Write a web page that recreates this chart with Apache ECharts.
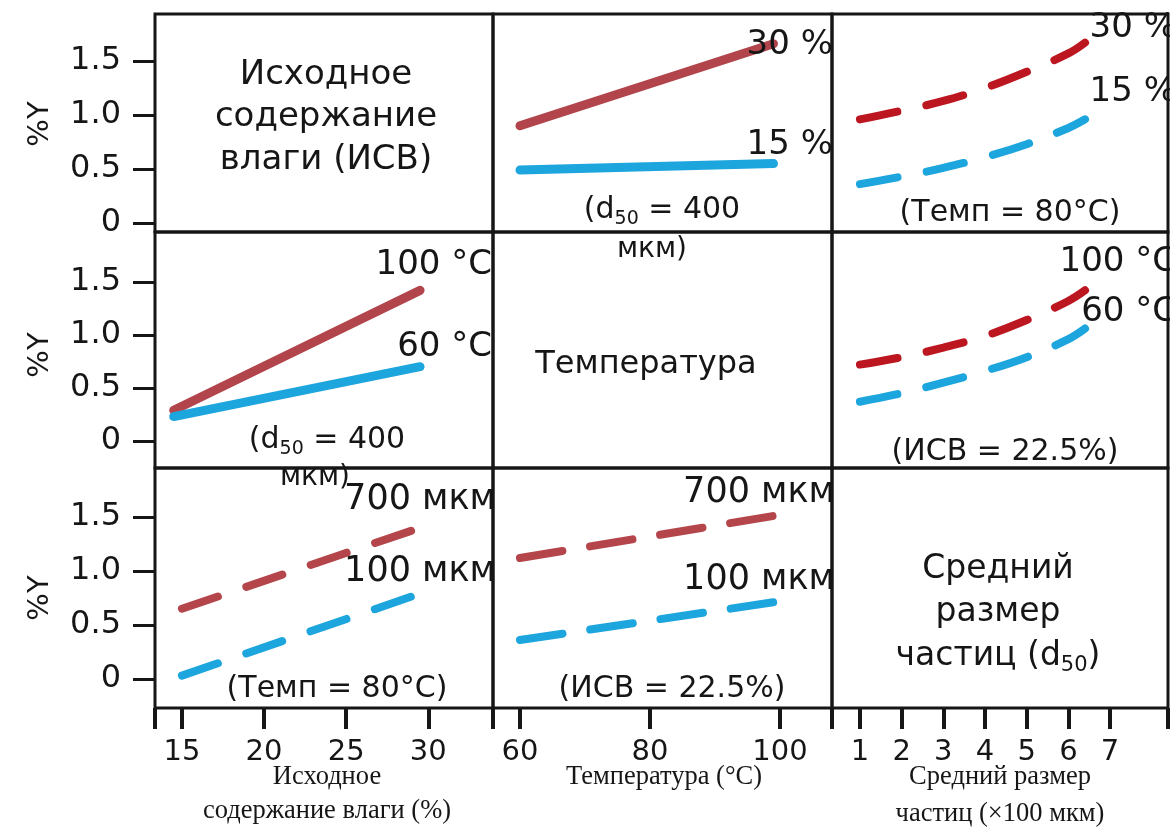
<!DOCTYPE html>
<html>
<head>
<meta charset="utf-8">
<script src="https://cdn.jsdelivr.net/npm/echarts@6/dist/echarts.min.js"></script>
<style>
  html, body { margin: 0; padding: 0; background: #ffffff; }
  #chart { width: 1170px; height: 838px; }
</style>
</head>
<body>
<div id="chart"></div>
<script>
// ---- Tick values and labels ----
const yTicks = [0, 0.5, 1.0, 1.5];
const yTickLabels = ['0', '0.5', '1.0', '1.5'];
const moistTicks = [15, 20, 25, 30];
const tempTicks = [60, 80, 100];
const sizeTicks = [1, 2, 3, 4, 5, 6, 7];

// ---- Yield %Y versus temperature (°C) ----
const tempX = [60, 99];
const yieldTempW30 = [0.90, 1.66];   // ИСВ 30 %
const yieldTempW15 = [0.49, 0.55];   // ИСВ 15 %
const yieldTempD700 = [1.12, 1.51];  // d50 700 мкм
const yieldTempD100 = [0.36, 0.71];  // d50 100 мкм

// ---- Yield %Y versus initial moisture content (%) ----
const moistXT = [14.5, 29.5];
const yieldMoistT100 = [0.29, 1.42]; // 100 °C
const yieldMoistT60 = [0.23, 0.70];  // 60 °C
const moistXD = [15, 29.5];
const yieldMoistD700 = [0.65, 1.40]; // 700 мкм
const yieldMoistD100 = [0.03, 0.79]; // 100 мкм

// ---- Yield %Y versus mean particle size (×100 мкм) ----
const sizeX = [1, 2, 3, 4, 5, 6, 6.4];
const yieldSizeW30 = [0.96, 1.04, 1.13, 1.25, 1.40, 1.57, 1.67];
const yieldSizeW15 = [0.36, 0.43, 0.51, 0.61, 0.73, 0.88, 0.96];
const yieldSizeT100 = [0.72, 0.79, 0.88, 0.99, 1.14, 1.32, 1.42];
const yieldSizeT60 = [0.37, 0.45, 0.55, 0.66, 0.79, 0.96, 1.06];

// ---- Layout of the 3×3 matrix ----
const colLeft = [155, 493, 832];
const colWidth = [338, 339, 336];
const rowTop = [14, 232, 468];
const rowHeight = [218, 236, 240];
const colRange = [[13.36, 33.94], [55.85, 108], [0.33, 8.39]];
const rowRange = [[-0.083, 1.935], [-0.255, 1.97], [-0.27, 1.954]];
const colTicks = [moistTicks, tempTicks, sizeTicks];

const INK = '#161616';
const SANS = '"DejaVu Sans", "Open Sans", sans-serif';
const SERIF = '"Liberation Serif", "DejaVu Serif", serif';
const RED_SOLID = '#B2454B';
const RED_DARK = '#BC1721';
const RED_DASH = '#B4464B';
const BLUE = '#1DA5DE';

const grids = [], xAxes = [], yAxes = [];
for (let r = 0; r < 3; r++) {
  for (let c = 0; c < 3; c++) {
    grids.push({
      left: colLeft[c], top: rowTop[r], width: colWidth[c], height: rowHeight[r],
      show: true, borderColor: INK, borderWidth: 3, backgroundColor: 'transparent'
    });
    const edgeTicks = c === 2 ? [colRange[c][0], colRange[c][1]] : [colRange[c][0]];
    xAxes.push({
      gridIndex: r * 3 + c, type: 'value', position: 'bottom',
      min: colRange[c][0], max: colRange[c][1],
      show: r === 2,
      axisLine: { show: false, onZero: false },
      splitLine: { show: false },
      axisTick: {
        show: true, inside: false, length: 21,
        customValues: edgeTicks.concat(colTicks[c]),
        lineStyle: { color: INK, width: 4 }
      },
      axisLabel: {
        show: true, customValues: colTicks[c], margin: 30,
        fontFamily: SANS, fontSize: 29, color: INK,
        formatter: v => String(v)
      }
    });
    yAxes.push({
      gridIndex: r * 3 + c, type: 'value', position: 'left',
      min: rowRange[r][0], max: rowRange[r][1],
      show: c === 0,
      axisLine: { show: false, onZero: false },
      splitLine: { show: false },
      axisTick: {
        show: true, inside: false, length: 22,
        customValues: yTicks,
        lineStyle: { color: INK, width: 3 }
      },
      axisLabel: {
        show: true, customValues: yTicks, margin: 34,
        fontFamily: SANS, fontSize: 32, color: INK,
        formatter: v => yTickLabels[yTicks.indexOf(v)]
      }
    });
  }
}

function pairs(xs, ys) { return xs.map((x, i) => [x, ys[i]]); }

function curve(panel, xs, ys, color, dash, width) {
  return {
    type: 'line', xAxisIndex: panel, yAxisIndex: panel,
    data: pairs(xs, ys), showSymbol: false, silent: true,
    smooth: xs.length > 2 ? 0.4 : false,
    lineStyle: { color: color, width: width, type: dash || 'solid', cap: 'round' }
  };
}

const series = [
  // row 1: temperature panel (solid) and particle size panel (dashed)
  curve(1, tempX, yieldTempW30, RED_SOLID, null, 9),
  curve(1, tempX, yieldTempW15, BLUE, null, 9),
  curve(2, sizeX, yieldSizeW30, RED_DARK, [38, 30], 8),
  curve(2, sizeX, yieldSizeW15, BLUE, [38, 30], 8),
  // row 2: moisture panel (solid) and particle size panel (dashed)
  curve(3, moistXT, yieldMoistT100, RED_SOLID, null, 9),
  curve(3, moistXT, yieldMoistT60, BLUE, null, 9),
  curve(5, sizeX, yieldSizeT100, RED_DARK, [38, 30], 8),
  curve(5, sizeX, yieldSizeT60, BLUE, [38, 30], 8),
  // row 3: moisture panel and temperature panel (dashed)
  curve(6, moistXD, yieldMoistD700, RED_DASH, [38, 30], 8),
  curve(6, moistXD, yieldMoistD100, BLUE, [38, 30], 8),
  curve(7, tempX, yieldTempD700, RED_DASH, [43, 28], 8),
  curve(7, tempX, yieldTempD100, BLUE, [43, 28], 8)
];

function txt(x, y, text, size, align, family, rot) {
  return {
    type: 'text', x: x, y: y, z: 100, rotation: rot || 0, silent: true,
    style: {
      text: text, fill: INK, align: align || 'center', verticalAlign: 'middle',
      font: size + 'px ' + (family || SANS)
    }
  };
}

// text with a lowered, smaller "50" after the letter d
function txtSub(x, y, before, after, size) {
  const lh = Math.round(size * 1.25);
  return {
    type: 'text', x: x, y: y, z: 100, silent: true,
    style: {
      text: before + '{s|50}' + after,
      fill: INK, align: 'center', verticalAlign: 'middle',
      font: size + 'px ' + SANS, lineHeight: lh,
      rich: {
        s: {
          fontFamily: SANS, fontSize: Math.round(size * 0.64), fill: INK,
          verticalAlign: 'bottom', lineHeight: Math.round(size * 0.7)
        }
      }
    }
  };
}

const graphic = [
  // y-axis name on each row
  txt(40, 124, '%Y', 29, 'center', SANS, Math.PI / 2),
  txt(40, 355, '%Y', 29, 'center', SANS, Math.PI / 2),
  txt(40, 598, '%Y', 29, 'center', SANS, Math.PI / 2),

  // diagonal panel titles
  txt(326, 75, 'Исходное', 34),
  txt(326, 117, 'содержание', 34),
  txt(326, 160, 'влаги (ИСВ)', 34),
  txt(646, 365, 'Температура', 32),
  txt(998, 569, 'Средний', 33),
  txt(998, 612, 'размер', 33),
  txtSub(998, 656, 'частиц (d', ')', 33),

  // row 1, temperature panel
  txt(833, 45, '30 %', 34, 'right'),
  txt(833, 145, '15 %', 34, 'right'),
  txtSub(662, 210, '(d', ' = 400', 30),
  txt(652, 250, 'мкм)', 28),
  // row 1, particle size panel
  txt(1176, 28, '30 %', 34, 'right'),
  txt(1176, 92, '15 %', 34, 'right'),
  txt(1010, 213, '(Темп = 80°C)', 30),

  // row 2, moisture panel
  txt(492, 265, '100 °C', 34, 'right'),
  txt(492, 347, '60 °C', 34, 'right'),
  txtSub(327, 440, '(d', ' = 400', 30),
  txt(315, 478, 'мкм)', 28),
  // row 2, particle size panel
  txt(1176, 262, '100 °C', 34, 'right'),
  txt(1176, 312, '60 °C', 34, 'right'),
  txt(1005, 452, '(ИСВ = 22.5%)', 30),

  // row 3, moisture panel
  txt(496, 500, '700 мкм', 35, 'right'),
  txt(496, 572, '100 мкм', 35, 'right'),
  txt(337, 689, '(Темп = 80°C)', 30),
  // row 3, temperature panel
  txt(835, 493, '700 мкм', 35, 'right'),
  txt(835, 580, '100 мкм', 35, 'right'),
  txt(672, 689, '(ИСВ = 22.5%)', 30),

  // x-axis titles
  txt(327, 777, 'Исходное', 26.5, 'center', SERIF),
  txt(327, 811, 'содержание влаги (%)', 26.5, 'center', SERIF),
  txt(664, 777, 'Температура (°C)', 26.5, 'center', SERIF),
  txt(1000, 777, 'Средний размер', 26.5, 'center', SERIF),
  txt(1000, 814, 'частиц (×100 мкм)', 26.5, 'center', SERIF)
];

const chart = echarts.init(document.getElementById('chart'), null, { renderer: 'canvas' });
chart.setOption({
  animation: false,
  backgroundColor: '#ffffff',
  grid: grids,
  xAxis: xAxes,
  yAxis: yAxes,
  series: series,
  graphic: graphic
});
</script>
</body>
</html>
